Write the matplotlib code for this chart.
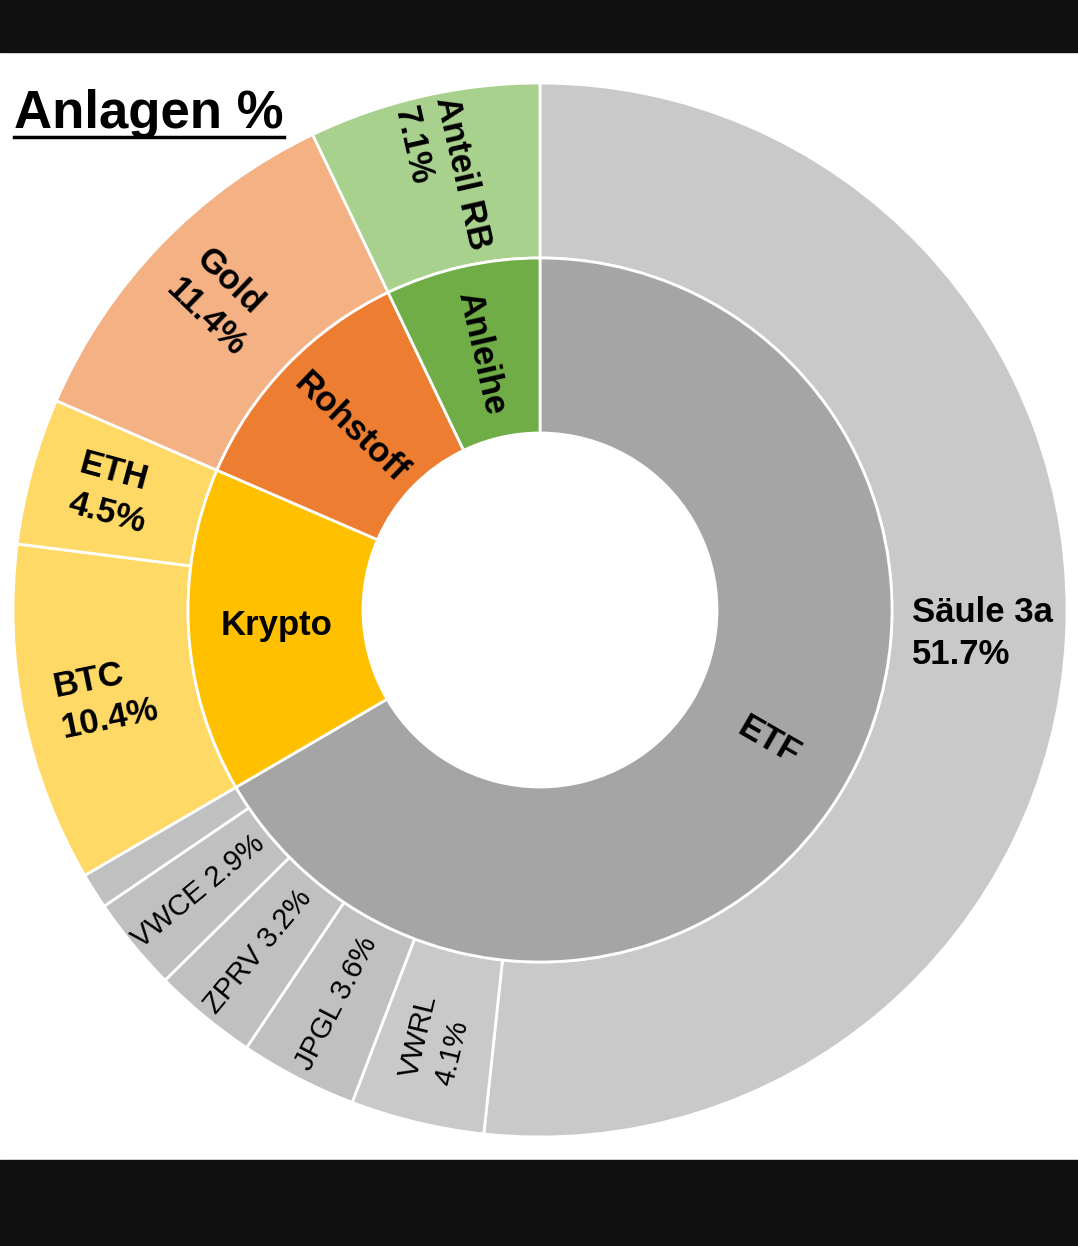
import matplotlib.pyplot as plt
from matplotlib.patches import Rectangle
from matplotlib.lines import Line2D
import numpy as np

# outer ring (clockwise from 12 o'clock)
outer_labels = ["Säule 3a\n51.7%", "VWRL\n4.1%", "JPGL 3.6%", "ZPRV 3.2%", "VWCE 2.9%", "",
                "BTC\n10.4%", "ETH\n4.5%", "Gold\n11.4%", "Anteil RB\n7.1%"]
outer_values = [51.7, 4.1, 3.6, 3.2, 2.9, 1.1, 10.4, 4.5, 11.4, 7.1]
outer_colors = ["#C9C9C9", "#C9C9C9", "#C0C0C0", "#C0C0C0", "#C0C0C0", "#C0C0C0",
                "#FFD966", "#FFD966", "#F4B183", "#A9D18E"]
outer_bold = [True, False, False, False, False, False, True, True, True, True]

# inner ring
inner_labels = ["ETF", "Krypto", "Rohstoff", "Anleihe"]
inner_values = [66.6, 14.9, 11.4, 7.1]
inner_colors = ["#A5A5A5", "#FFC000", "#ED7D31", "#70AD47"]

FONT = "Liberation Sans"

W, H = 1078, 1246
fig = plt.figure(figsize=(W / 100, H / 100), dpi=100)
fig.patch.set_facecolor("white")

# black screenshot bands
fig.patches.append(Rectangle((0, 1 - 52 / H), 1, 52 / H, transform=fig.transFigure,
                             color="#101010", zorder=0))
fig.patches.append(Rectangle((0, 0), 1, 86 / H, transform=fig.transFigure,
                             color="#101010", zorder=0))

cx, cy, R = 540, 610, 527
ax = fig.add_axes([(cx - R) / W, (H - cy - R) / H, 2 * R / W, 2 * R / H])

r_mid = 352 / R
r_hole = 177 / R
edge = dict(edgecolor="white", linewidth=2)

ax.pie(outer_values, radius=1.0, colors=outer_colors, startangle=90, counterclock=False,
       wedgeprops=dict(width=1.0 - r_mid, **edge))
ax.pie(inner_values, radius=r_mid, colors=inner_colors, startangle=90, counterclock=False,
       wedgeprops=dict(width=r_mid - r_hole, **edge))
ax.set_xlim(-1, 1)
ax.set_ylim(-1, 1)
ax.set_aspect("equal")
ax.axis("off")


def place(values, labels, radius, bolds, sizes, horiz):
    total = sum(values)
    start = 0.0
    for i, (v, lab) in enumerate(zip(values, labels)):
        mid = (start + v / 2) / total * 360  # clockwise from top
        start += v
        if not lab:
            continue
        ang = np.deg2rad(90 - mid)
        x, y = radius * np.cos(ang), radius * np.sin(ang)
        rot = (90 - mid) + 180  # inward direction
        rot = (rot + 180) % 360 - 180
        if rot > 90:
            rot -= 180
        elif rot < -90:
            rot += 180
        if horiz[i]:
            rot = 0
        ax.text(x, y, lab, ha="center", va="center", rotation=rot, rotation_mode="anchor",
                fontsize=sizes[i], fontweight="bold" if bolds[i] else "normal",
                family=FONT, color="black", linespacing=1.35, multialignment="left")


outer_sizes = [25 if b else 21 for b in outer_bold]
outer_horiz = [True] + [False] * 9
place(outer_values, outer_labels, 0.84, outer_bold, outer_sizes, outer_horiz)
place(inner_values, inner_labels, 0.50, [True] * 4, [25] * 4, [False, True, False, False])

# title with underline
t = fig.text(14 / W, 1 - 128 / H, "Anlagen %", fontsize=38, fontweight="bold",
             family=FONT, ha="left", va="baseline")
fig.canvas.draw()
bb = t.get_window_extent().transformed(fig.transFigure.inverted())
uy = 1 - 137 / H
fig.add_artist(Line2D([bb.x0, bb.x1], [uy, uy], transform=fig.transFigure,
                      color="black", linewidth=2.5))

fig.savefig("out.png", dpi=100)
